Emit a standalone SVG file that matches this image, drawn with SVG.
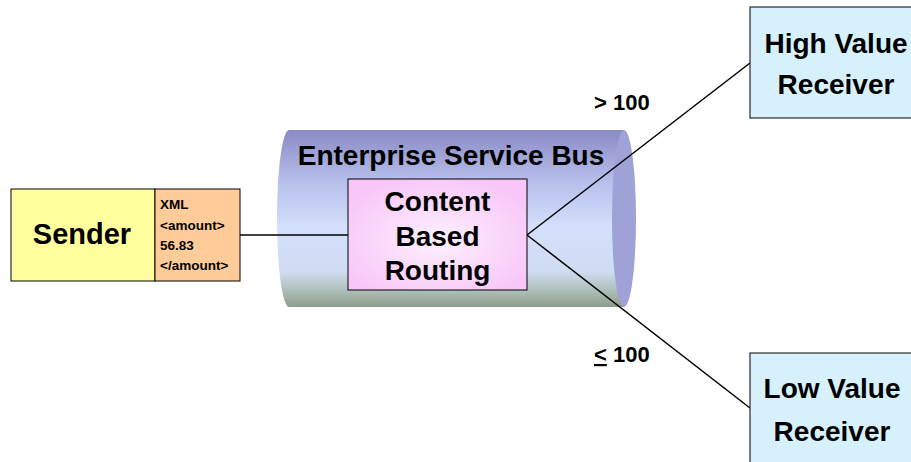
<svg xmlns="http://www.w3.org/2000/svg" width="911" height="462" viewBox="0 0 911 462">
<defs>
<style>
text{font-family:"Liberation Sans",Arial,sans-serif;font-weight:bold;fill:#000}
.big{font-size:28px;text-anchor:middle}
.xml{font-size:13.5px}
.lbl{font-size:22px}
.ln{stroke:#000;stroke-width:1.5;fill:none}
.box{stroke:#000;stroke-width:1}
</style>
<linearGradient id="bus" x1="0" y1="0" x2="0" y2="1">
<stop offset="0" stop-color="#8a8ac4"/>
<stop offset="0.3" stop-color="#b8c0ec"/>
<stop offset="0.55" stop-color="#d4e0fc"/>
<stop offset="0.8" stop-color="#cfdcf2"/>
<stop offset="0.93" stop-color="#a6b8ac"/>
<stop offset="1" stop-color="#8c9c8c"/>
</linearGradient>
<radialGradient id="pink" cx="0.5" cy="0.55" r="0.6">
<stop offset="0" stop-color="#fdf0fd"/>
<stop offset="1" stop-color="#f8c6f8"/>
</radialGradient>
</defs>
<g id="bus-node">
<path d="M289,130 H624 V307 H289 A12,88.5 0 0 1 289,130 Z" fill="url(#bus)"/>
<ellipse cx="624" cy="218.5" rx="12" ry="88.5" fill="#9ea2d6"/>
<text class="big" x="451" y="165">Enterprise Service Bus</text>
</g>
<g id="connectors">
<line class="ln" x1="240" y1="235" x2="348" y2="235"/>
<line class="ln" x1="527" y1="235" x2="750" y2="63"/>
<line class="ln" x1="527" y1="235" x2="750" y2="408"/>
<text class="lbl" x="594" y="110">&gt; 100</text>
<text class="lbl" x="594" y="362"><tspan text-decoration="underline">&lt;</tspan> 100</text>
</g>
<g id="sender">
<rect class="box" x="11" y="189" width="144" height="92" fill="#ffff9e"/>
<text x="82" y="244" style="font-size:29px;text-anchor:middle">Sender</text>
</g>
<g id="message">
<rect class="box" x="155" y="189" width="85" height="92" fill="#ffcc99"/>
<text class="xml" x="160" y="209">XML</text>
<text class="xml" x="160" y="230">&lt;amount&gt;</text>
<text class="xml" x="160" y="250">56.83</text>
<text class="xml" x="160" y="270">&lt;/amount&gt;</text>
</g>
<g id="router">
<rect class="box" x="348" y="179" width="179" height="111" fill="url(#pink)"/>
<text class="big" x="437.5" y="211">Content</text>
<text class="big" x="437.5" y="246">Based</text>
<text class="big" x="437.5" y="280">Routing</text>
</g>
<g id="high">
<rect class="box" x="750" y="7" width="170" height="111" fill="#d6f0fc"/>
<text class="big" x="836" y="53">High Value</text>
<text class="big" x="836" y="94">Receiver</text>
</g>
<g id="low">
<rect class="box" x="750" y="353" width="170" height="120" fill="#d6f0fc"/>
<text class="big" x="832" y="398">Low Value</text>
<text class="big" x="832" y="441">Receiver</text>
</g>
</svg>
